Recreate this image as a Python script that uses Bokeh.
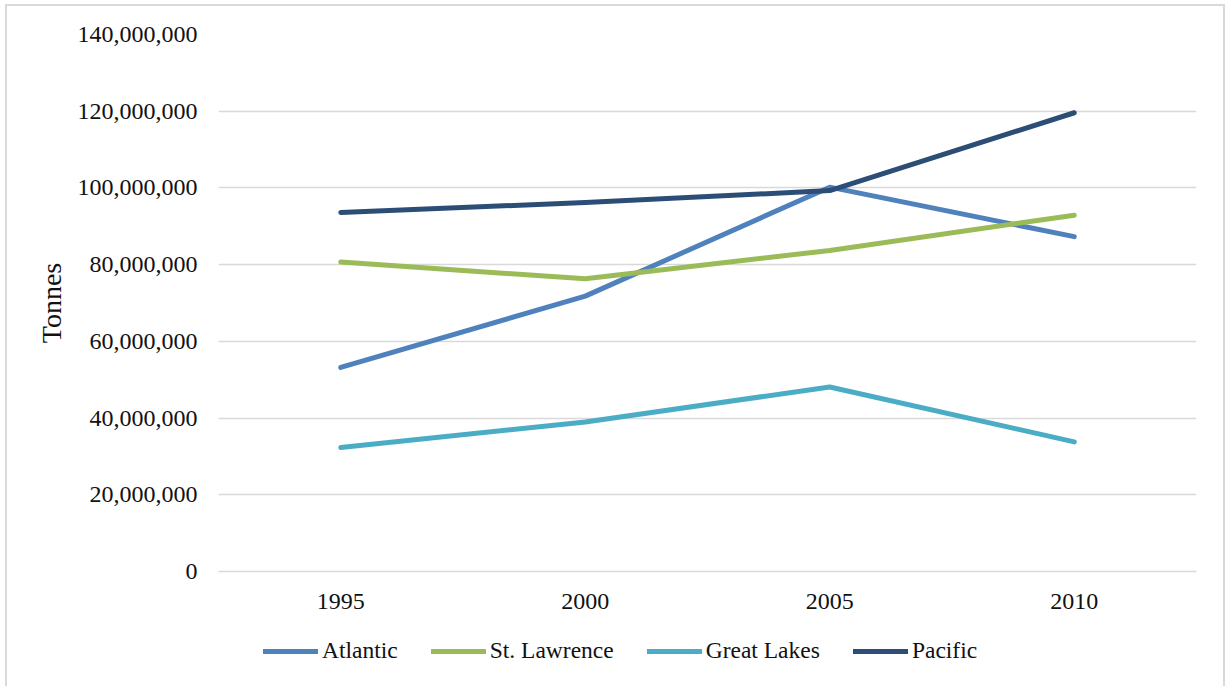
from bokeh.plotting import figure
from bokeh.layouts import column
from bokeh.models import FixedTicker, NumeralTickFormatter, Legend, LegendItem, FactorRange, Range1d
from bokeh.embed import file_html
from bokeh.resources import INLINE

years = ["1995", "2000", "2005", "2010"]
atlantic = [53200000, 71800000, 100200000, 87300000]
st_lawrence = [80700000, 76300000, 83700000, 92900000]
great_lakes = [32300000, 39000000, 48100000, 33800000]
pacific = [93600000, 96200000, 99300000, 119600000]
series_names = ["Atlantic", "St. Lawrence", "Great Lakes", "Pacific"]
y_ticks = [0, 20000000, 40000000, 60000000, 80000000, 100000000, 120000000, 140000000]

colors = ["#4f81bd", "#9bbb59", "#4bacc6", "#2c4d75"]
FONT = "Liberation Serif"
all_series = [atlantic, st_lawrence, great_lakes, pacific]

p = figure(frame_width=978, frame_height=537, x_range=FactorRange(*years, range_padding=0),
           y_range=Range1d(0, 140000000), output_backend="svg", toolbar_location=None,
           min_border_left=211, min_border_right=27, min_border_top=28, min_border_bottom=54)
p.outline_line_color = None
p.background_fill_color = "white"
p.border_fill_color = "white"

p.yaxis.ticker = FixedTicker(ticks=y_ticks)
p.yaxis.formatter = NumeralTickFormatter(format="0,0")
p.yaxis.axis_line_color = None
p.yaxis.major_tick_line_color = None
p.yaxis.minor_tick_line_color = None
p.yaxis.major_label_text_font = FONT
p.yaxis.major_label_text_font_size = "24px"
p.yaxis.major_label_text_color = "#111111"
p.yaxis.major_label_standoff = 15
p.yaxis.axis_label = "Tonnes"
p.yaxis.axis_label_text_font = FONT
p.yaxis.axis_label_text_font_size = "28px"
p.yaxis.axis_label_text_font_style = "normal"
p.yaxis.axis_label_text_color = "#111111"
p.yaxis.axis_label_standoff = 8

p.xaxis.axis_line_color = "#d9d9d9"
p.xaxis.axis_line_width = 1.5
p.xaxis.major_tick_line_color = None
p.xaxis.minor_tick_line_color = None
p.xaxis.major_label_text_font = FONT
p.xaxis.major_label_text_font_size = "24px"
p.xaxis.major_label_text_color = "#111111"
p.xaxis.major_label_standoff = 16

p.xgrid.grid_line_color = None
p.ygrid.grid_line_color = "#d9d9d9"
p.ygrid.grid_line_width = 1.5

for name, vals, c in zip(series_names, all_series, colors):
    p.line(years, vals, line_color=c, line_width=5, line_cap="round", line_join="round")

# legend strip below the chart (series drawn out of view so only their legend entries show)
p2 = figure(frame_width=978, frame_height=61, x_range=FactorRange(*years, range_padding=0),
            y_range=Range1d(1e12, 1e12 + 1),
            x_axis_type=None, y_axis_type=None, output_backend="svg", toolbar_location=None,
            min_border_left=211, min_border_right=27, min_border_top=0, min_border_bottom=0)
p2.outline_line_color = None
p2.grid.visible = False
p2.background_fill_color = "white"
p2.border_fill_color = "white"
items = []
for name, vals, c in zip(series_names, all_series, colors):
    r = p2.line(years, vals, line_color=c, line_width=5, line_cap="round")
    items.append(LegendItem(label=name, renderers=[r]))
legend = Legend(items=items, orientation="horizontal", location=(45, 22),
                label_text_font=FONT, label_text_font_size="23.5px", label_text_color="#111111",
                glyph_width=55, glyph_height=20, label_standoff=4, spacing=33,
                padding=0, margin=0, border_line_color=None, background_fill_alpha=0)
p2.add_layout(legend, "center")

layout = column(p, p2, spacing=0,
                styles={"margin-left": "5px", "margin-top": "4px",
                        "border-left": "2px solid #d9d9d9", "border-top": "2px solid #d9d9d9",
                        "border-right": "2px solid #d9d9d9"})

open("out.html", "w").write(file_html(layout, INLINE))
